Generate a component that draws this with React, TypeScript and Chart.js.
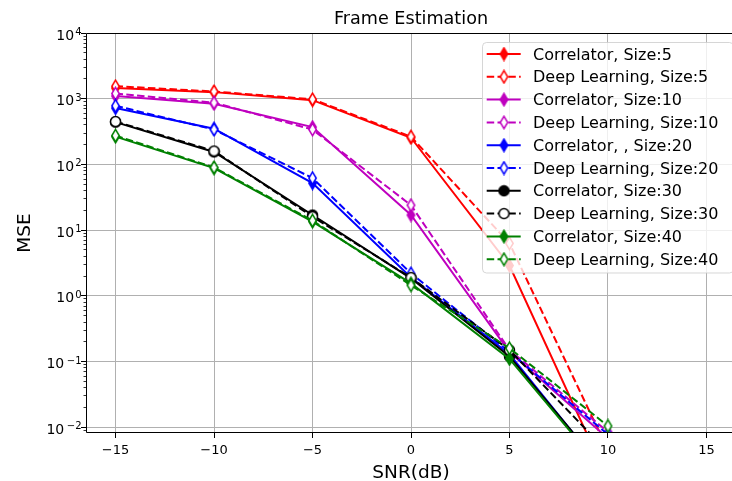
import React, { useEffect, useRef } from "react";
import { Chart, registerables } from "chart.js";

Chart.register(...registerables);

// ---------- data ----------
const snrDb = [-15, -10, -5, 0, 5, 10];
const corr5 = [1450, 1260, 950, 255, 2.9, 0.0016];
const deep5 = [1550, 1290, 980, 265, 6.3, 0.0045];
const corr10 = [1100, 840, 370, 17, 0.14, 0.0068];
const deep10 = [1200, 870, 340, 24, 0.15, 0.0085];
const corr20 = [720, 350, 52, 1.9, 0.13, 0.0018];
const deep20 = [780, 340, 62, 2.2, 0.14, 0.0078];
const corr30 = [440, 155, 17, 1.85, 0.12, 0.0019];
const deep30 = [450, 160, 16, 1.9, 0.15, 0.0042];
const corr40 = [265, 88, 13.5, 1.55, 0.11, 0.0018];
const deep40 = [275, 90, 14, 1.45, 0.16, 0.0105];

const seriesLabels = [
  "Correlator, Size:5",
  "Deep Learning, Size:5",
  "Correlator, Size:10",
  "Deep Learning, Size:10",
  "Correlator, , Size:20",
  "Deep Learning, Size:20",
  "Correlator, Size:30",
  "Deep Learning, Size:30",
  "Correlator, Size:40",
  "Deep Learning, Size:40",
];
const seriesValues = [corr5, deep5, corr10, deep10, corr20, deep20, corr30, deep30, corr40, deep40];
const seriesColors = ["#ff0000", "#ff0000", "#bf00bf", "#bf00bf", "#0000ff", "#0000ff", "#000000", "#000000", "#008000", "#008000"];
const seriesDashed = [false, true, false, true, false, true, false, true, false, true];
const seriesMarker = ["diamond", "diamond", "diamond", "diamond", "diamond", "diamond", "circle", "circle", "diamond", "diamond"];

const xTickValues = [-15, -10, -5, 0, 5, 10, 15];
const yTickExponents = [-2, -1, 0, 1, 2, 3, 4];
const chartTitle = "Frame Estimation";
const xTitle = "SNR(dB)";
const yTitle = "MSE";

const FONT = "'DejaVu Sans', sans-serif";
const DASH = [7.5, 3.3];

function makeMarker(kind: string, color: string, filled: boolean): HTMLCanvasElement {
  const c = document.createElement("canvas");
  const ctx = c.getContext("2d") as CanvasRenderingContext2D;
  if (kind === "diamond") {
    c.width = 11;
    c.height = 15;
  } else {
    c.width = 13;
    c.height = 13;
  }
  const g = c.getContext("2d") as CanvasRenderingContext2D;
  g.lineWidth = 1.5;
  g.strokeStyle = color;
  g.fillStyle = filled ? color : "#ffffff";
  g.beginPath();
  if (kind === "diamond") {
    const cx = 5.5, cy = 7.5, hw = 3.7, hh = 6.2;
    g.moveTo(cx, cy - hh);
    g.lineTo(cx + hw, cy);
    g.lineTo(cx, cy + hh);
    g.lineTo(cx - hw, cy);
    g.closePath();
  } else {
    g.arc(6.5, 6.5, 5, 0, Math.PI * 2);
  }
  g.fill();
  g.stroke();
  void ctx;
  return c;
}

function fmtMinus(v: number): string {
  return v < 0 ? "\u2212" + Math.abs(v) : String(v);
}

export default function App() {
  const ref = useRef<HTMLCanvasElement | null>(null);

  useEffect(() => {
    const canvas = ref.current;
    if (!canvas) return;
    const markers = seriesLabels.map((_, i) =>
      makeMarker(seriesMarker[i], seriesColors[i], !seriesDashed[i])
    );

    const decor = {
      id: "decor",
      afterDraw(chart: any) {
        const ctx: CanvasRenderingContext2D = chart.ctx;
        const { left, right, top, bottom } = chart.chartArea;
        const xs = chart.scales.x;
        const ys = chart.scales.y;
        const al = (p: number) => Math.round(p - 0.5) + 0.5;
        ctx.save();
        // spines
        ctx.strokeStyle = "#000";
        ctx.lineWidth = 1;
        ctx.beginPath();
        ctx.moveTo(left + 0.5, top + 0.5);
        ctx.lineTo(right - 0.5, top + 0.5);
        ctx.lineTo(right - 0.5, bottom - 0.5);
        ctx.lineTo(left + 0.5, bottom - 0.5);
        ctx.closePath();
        ctx.stroke();
        // x ticks
        ctx.beginPath();
        for (const v of xTickValues) {
          const px = al(xs.getPixelForValue(v));
          ctx.moveTo(px, bottom);
          ctx.lineTo(px, bottom + 5);
        }
        // y major ticks
        for (const e of yTickExponents) {
          const py = al(ys.getPixelForValue(Math.pow(10, e)));
          ctx.moveTo(left - 5, py);
          ctx.lineTo(left, py);
        }
        ctx.stroke();
        // y minor ticks
        ctx.beginPath();
        ctx.lineWidth = 0.8;
        for (let e = -3; e <= 4; e++) {
          for (let m = 2; m <= 9; m++) {
            const val = m * Math.pow(10, e);
            if (val < ys.min || val > ys.max) continue;
            const py = al(ys.getPixelForValue(val));
            ctx.moveTo(left - 2.5, py);
            ctx.lineTo(left, py);
          }
        }
        ctx.stroke();

        // x tick labels
        ctx.fillStyle = "#000";
        ctx.textAlign = "center";
        ctx.textBaseline = "alphabetic";
        ctx.font = `13px ${FONT}`;
        for (const v of xTickValues) {
          ctx.fillText(fmtMinus(v), xs.getPixelForValue(v), bottom + 21);
        }
        // y tick labels (10^e)
        ctx.textAlign = "left";
        for (const e of yTickExponents) {
          const py = ys.getPixelForValue(Math.pow(10, e));
          const base = "10";
          const exp = fmtMinus(e);
          ctx.font = `10px ${FONT}`;
          let ew = ctx.measureText(exp).width;
          if (e < 0) ew += 1.5;
          ctx.font = `14px ${FONT}`;
          const bw = ctx.measureText(base).width;
          const rightEdge = left - 4.5;
          const bx = rightEdge - ew - 1 - bw;
          const baseY = py + 6.5;
          ctx.fillText(base, bx, baseY);
          ctx.font = `10px ${FONT}`;
          ctx.textAlign = "right";
          ctx.fillText(exp, rightEdge, baseY - 4.5);
          ctx.textAlign = "left";
        }

        // titles
        ctx.textAlign = "center";
        ctx.font = `17.6px ${FONT}`;
        ctx.fillText(chartTitle, (left + right) / 2, 24);
        ctx.font = `18.5px ${FONT}`;
        ctx.fillText(xTitle, (left + right) / 2, 478);
        ctx.save();
        ctx.translate(30, (top + bottom) / 2);
        ctx.rotate(-Math.PI / 2);
        ctx.fillText(yTitle, 0, 0);
        ctx.restore();

        // legend
        const lx = 482.5, ly = 42.5, lw = 251, lh = 230.5;
        const r = 4;
        ctx.beginPath();
        ctx.moveTo(lx + r, ly);
        ctx.lineTo(lx + lw - r, ly);
        ctx.arcTo(lx + lw, ly, lx + lw, ly + r, r);
        ctx.lineTo(lx + lw, ly + lh - r);
        ctx.arcTo(lx + lw, ly + lh, lx + lw - r, ly + lh, r);
        ctx.lineTo(lx + r, ly + lh);
        ctx.arcTo(lx, ly + lh, lx, ly + lh - r, r);
        ctx.lineTo(lx, ly + r);
        ctx.arcTo(lx, ly, lx + r, ly, r);
        ctx.closePath();
        ctx.fillStyle = "rgba(255,255,255,0.8)";
        ctx.fill();
        ctx.strokeStyle = "rgba(204,204,204,0.8)";
        ctx.lineWidth = 1;
        ctx.stroke();

        ctx.font = `16px ${FONT}`;
        ctx.textAlign = "left";
        seriesLabels.forEach((lab, i) => {
          const yy = 54 + i * 22.8;
          ctx.beginPath();
          ctx.strokeStyle = seriesColors[i];
          ctx.lineWidth = 2;
          ctx.setLineDash(seriesDashed[i] ? DASH : []);
          ctx.moveTo(486.7, yy);
          ctx.lineTo(520.7, yy);
          ctx.stroke();
          ctx.setLineDash([]);
          const mk = markers[i];
          ctx.drawImage(mk, 504 - mk.width / 2, yy - mk.height / 2);
          ctx.fillStyle = "#000";
          ctx.fillText(lab, 533, yy + 5.5);
        });
        ctx.restore();
      },
    };

    const chart = new Chart(canvas, {
      type: "line",
      data: {
        datasets: seriesLabels.map((lab, i) => ({
          label: lab,
          data: snrDb.map((x, j) => ({ x, y: seriesValues[i][j] })),
          borderColor: seriesColors[i],
          backgroundColor: seriesColors[i],
          borderWidth: 2,
          borderDash: seriesDashed[i] ? DASH : [],
          pointStyle: markers[i] as any,
          pointRadius: 6,
          pointHoverRadius: 6,
          fill: false,
          tension: 0,
          order: -i,
          clip: 0,
        })),
      },
      options: {
        responsive: false,
        animation: false,
        devicePixelRatio: 1,
        events: [],
        layout: { padding: { top: 33, left: 0, right: 1, bottom: 0 } },
        plugins: {
          legend: { display: false },
          title: { display: false },
          tooltip: { enabled: false },
        },
        scales: {
          x: {
            type: "linear",
            min: -16.5,
            max: 16.5,
            afterBuildTicks: (s: any) => {
              s.ticks = xTickValues.map((v) => ({ value: v }));
            },
            afterFit: (s: any) => {
              s.height = 48;
            },
            grid: { color: "#b0b0b0", lineWidth: 1, drawTicks: false },
            border: { display: false },
            ticks: { display: false },
          },
          y: {
            type: "logarithmic",
            min: 0.0082,
            max: 10000,
            afterBuildTicks: (s: any) => {
              s.ticks = yTickExponents.map((e) => ({ value: Math.pow(10, e) }));
            },
            afterFit: (s: any) => {
              s.width = 86;
            },
            grid: { color: "#b0b0b0", lineWidth: 1, drawTicks: false },
            border: { display: false },
            ticks: { display: false },
          },
        },
      },
      plugins: [decor],
    } as any);

    return () => chart.destroy();
  }, []);

  return (
    <div
      style={{
        position: "fixed",
        left: 0,
        top: 0,
        width: 732,
        height: 481,
        overflow: "hidden",
        background: "#fff",
      }}
    >
      <canvas ref={ref} width={744} height={481} style={{ display: "block", width: 744, height: 481 }} />
    </div>
  );
}
